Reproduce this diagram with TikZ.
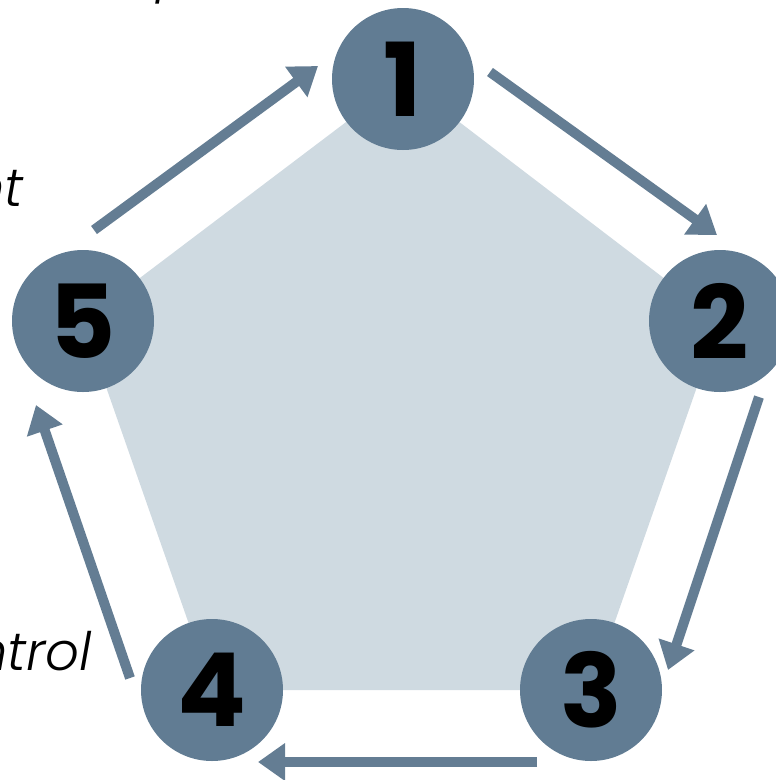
\documentclass[tikz,border=0pt]{standalone}
\usepackage{fontspec}
\setmainfont{Poppins}
\newfontfamily\labfont{Poppins Light Italic}
\usetikzlibrary{arrows.meta}
\definecolor{circ}{HTML}{617C93}
\definecolor{arr}{HTML}{647D93}
\definecolor{penta}{HTML}{CFDAE1}
\tikzset{
  stage/.style={circle, fill=circ, minimum size=142pt, inner sep=0pt,
    font=\fontsize{102}{102}\selectfont\bfseries, text=black},
  flow/.style={draw=arr, line width=10pt,
    -{Triangle[length=27pt,width=36pt]}},
  lab/.style={font=\fontsize{53}{53}\labfont, text=black, inner sep=0pt},
}
\begin{document}
\begin{tikzpicture}[x=1pt,y=-1pt]
\useasboundingbox (0,0) rectangle (776,780);
\coordinate (c1) at (403,79);
\coordinate (c2) at (720,321);
\coordinate (c3) at (591,690);
\coordinate (c4) at (212,690);
\coordinate (c5) at (83,321);
\fill[penta] (c1) -- (c2) -- (c3) -- (c4) -- (c5) -- cycle;
\node[stage] (n1) at (c1) {1};
\node[stage] (n2) at (c2) {2};
\node[stage] (n3) at (c3) {3};
\node[stage] (n4) at (c4) {4};
\node[stage] (n5) at (c5) {5};
\coordinate (a1s) at (490,72);  \coordinate (a1e) at (717,235);
\coordinate (a2s) at (759,397); \coordinate (a2e) at (668,670);
\coordinate (a3s) at (537,762); \coordinate (a3e) at (258,762);
\coordinate (a4s) at (130,678); \coordinate (a4e) at (36,405);
\coordinate (a5s) at (94,230);  \coordinate (a5e) at (318,66);
\draw[flow] (a1s) -- (a1e);
\draw[flow] (a2s) -- (a2e);
\draw[flow] (a3s) -- (a3e);
\draw[flow] (a4s) -- (a4e);
\draw[flow] (a5s) -- (a5e);
\node[lab, anchor=base east] (t1) at (192,-10) {Setup};
\node[lab, anchor=base east] (t5) at (24,206) {Assessment};
\node[lab, anchor=base east] (t4) at (92,670) {Control};
\end{tikzpicture}
\end{document}
